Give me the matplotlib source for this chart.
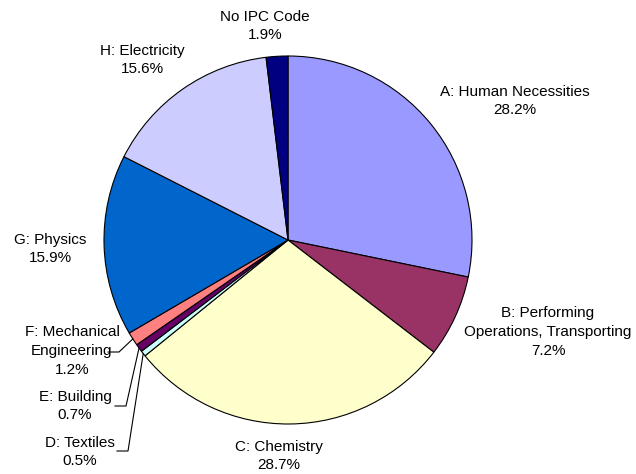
import numpy as np
import matplotlib
matplotlib.use("Agg")
import matplotlib.pyplot as plt

plt.rcParams['font.family'] = ['Liberation Sans', 'DejaVu Sans']

labels = ['A: Human Necessities', 'B: Performing\nOperations, Transporting',
          'C: Chemistry', 'D: Textiles', 'E: Building',
          'F: Mechanical\nEngineering', 'G: Physics', 'H: Electricity',
          'No IPC Code']
shares = [28.2, 7.2, 28.7, 0.5, 0.7, 1.2, 15.9, 15.6, 1.9]
colors = ['#9999FF', '#993366', '#FFFFCC', '#CCFFFF', '#660066',
          '#FF8080', '#0066CC', '#CCCCFF', '#000080']

W, H = 636, 474
fig = plt.figure(figsize=(W / 100, H / 100), dpi=100)
ax = fig.add_axes([0, 0, 1, 1])
ax.set_aspect('equal')
ax.axis('off')

cx, cy, r = 288, H - 240, 184
wedges, _ = ax.pie(shares, colors=colors, startangle=90, counterclock=False,
                   center=(cx, cy), radius=r,
                   wedgeprops=dict(edgecolor='black', linewidth=0.8))
ax.set_xlim(0, W)
ax.set_ylim(0, H)

# label block centres, in pixels from the top-left corner
label_pos = [(515, 101), (548, 332), (279, 456), (80, 452), (75, 406),
             (72, 351), (50, 249), (142, 60), (265, 26)]

for lab, val, (lx, ly) in zip(labels, shares, label_pos):
    ax.text(lx, H - ly, '{}\n{:.1f}%'.format(lab, val), ha='center',
            va='center', fontsize=11, linespacing=1.45)

# leader lines for the thin slices
leaders = {3: (117, 128, 451), 4: (115, 126, 406), 5: (108, 119, 352)}
for i, (x0, x1, ly) in leaders.items():
    w = wedges[i]
    mid = np.deg2rad((w.theta1 + w.theta2) / 2)
    ex = cx + r * np.cos(mid)
    ey = cy + r * np.sin(mid)
    ax.plot([x0, x1, ex], [H - ly, H - ly, ey], color='black', lw=0.8)

fig.savefig('out.png', dpi=100)
